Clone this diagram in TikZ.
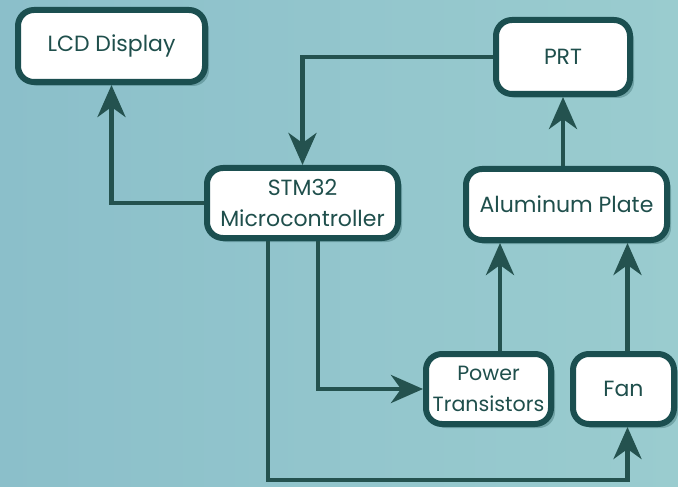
\documentclass[tikz,border=0pt]{standalone}
\usepackage{fontspec}
\setmainfont{Poppins}
\usetikzlibrary{shapes.geometric, arrows.meta, shadows}
\definecolor{bgleft}{HTML}{8BBFCA}
\definecolor{bgright}{HTML}{9ACCCF}
\definecolor{edge}{HTML}{1B4F50}
\definecolor{ink}{HTML}{1F4F4C}
\definecolor{wire}{HTML}{24524F}
\tikzstyle{block} = [
    rectangle,
    rounded corners=8pt,
    minimum height=35pt,
    line width=3pt,
    draw=edge,
    fill=white,
    text=ink,
    align=center,
    inner sep=1.5pt,
    font=\fontsize{11}{15.5}\selectfont,
    drop shadow={shadow xshift=2pt, shadow yshift=-2pt, opacity=0.3, fill=edge}
]
\tikzstyle{arrow} = [line width=2.3pt, draw=wire, -{Stealth[length=16pt, width=14pt, inset=5pt]}]

\begin{document}
\begin{tikzpicture}[x=0.5pt, y=-0.5pt]

\shade [left color=bgleft, right color=bgright] (0,0) rectangle (678,486);
\useasboundingbox (0,0) rectangle (678,486);

\node (lcd) [block, minimum width=93.5pt, minimum height=36pt] at (111.5,46) {LCD Display};

\node (stm) [block, minimum width=95.5pt] at (302.5,203) {STM32\\Microcontroller};

\node (prt) [block, minimum width=67pt, minimum height=37pt] at (563,57) {PRT};

\node (alu) [block, minimum width=100.5pt, minimum height=35.5pt] at (566.5,204.5) {Aluminum Plate};

\node (pwr) [block, minimum width=62.5pt, font=\fontsize{10.3}{15.5}\selectfont] at (488.5,389) {Power\\Transistors};

\node (fan) [block, minimum width=50.5pt] at (623.5,389) {Fan};

\coordinate (base) at (268,480);

\draw [arrow] (stm.west) -| (lcd.south);
\draw [arrow] (prt.west) -| (stm.north);
\draw [arrow] (prt.south |- alu.north) -- (prt.south);
\draw [arrow] ([xshift=7.75pt]stm.south) |- (pwr.west);
\draw [arrow] (stm.south -| base) -- (base) -| ([xshift=2pt]fan.south);
\draw [arrow] ([xshift=5.75pt]pwr.north) -- ([xshift=5.75pt]pwr.north |- alu.south);
\draw [arrow] ([xshift=2pt]fan.north) -- ([xshift=2pt]fan.north |- alu.south);

\end{tikzpicture}
\end{document}
